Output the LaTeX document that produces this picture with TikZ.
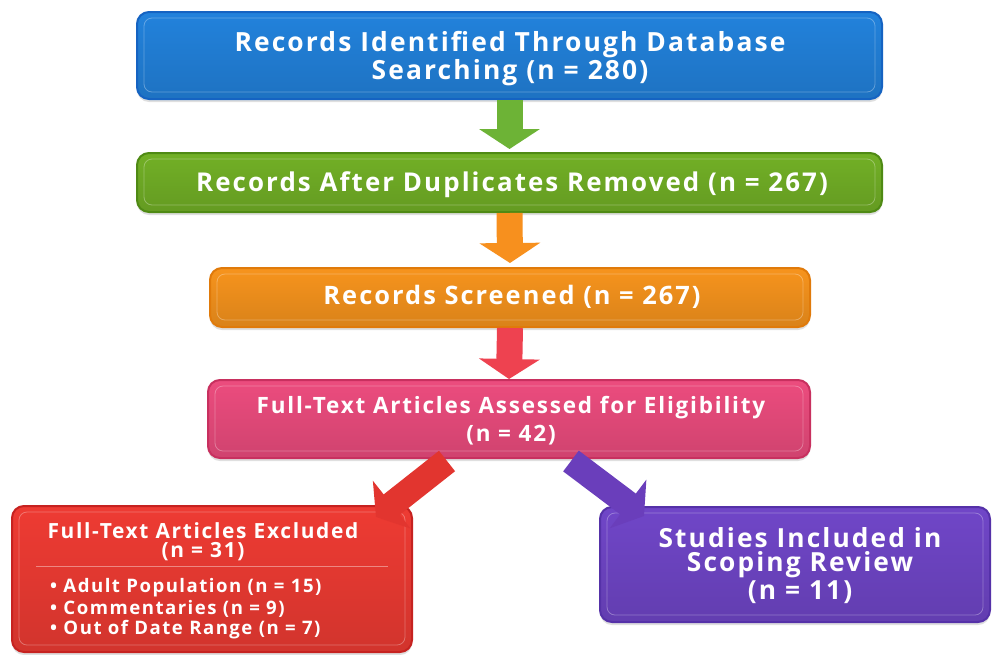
\documentclass[tikz,border=0pt]{standalone}
\usepackage{fontspec}
\setmainfont{Open Sans}
\newfontfamily\lsfont[LetterSpace=8]{Open Sans}
\usetikzlibrary{arrows.meta,shadows}
\definecolor{blueM}{HTML}{2282DC}\definecolor{blueD}{HTML}{1563C2}
\definecolor{greenM}{HTML}{72B026}\definecolor{greenD}{HTML}{4F8A14}
\definecolor{orangeM}{HTML}{F7941D}\definecolor{orangeD}{HTML}{E07A0A}
\definecolor{pinkM}{HTML}{EC4C7E}\definecolor{pinkD}{HTML}{C8305F}
\definecolor{redM}{HTML}{EE3B33}\definecolor{redD}{HTML}{C62220}
\definecolor{purpM}{HTML}{7046C8}\definecolor{purpD}{HTML}{5531A8}
\definecolor{arGreen}{HTML}{6DB336}\definecolor{arOrange}{HTML}{F7901E}
\definecolor{arRed}{HTML}{EE4250}\definecolor{arRedD}{HTML}{E2352F}
\definecolor{arPurp}{HTML}{6A3EBB}
\tikzset{
  boxbase/.style 2 args={rounded corners=12pt, draw=#2, line width=2pt,
    top color=#1, bottom color=#1!88!black, text=white,
    align=center, inner sep=0pt,
    drop shadow={shadow xshift=0pt, shadow yshift=-3pt, opacity=0.25}},
  hilite/.style={rounded corners=8pt, draw=white, draw opacity=0.3, line width=0.8pt},
  blockarrow/.style={line width=26pt, -{Triangle[width=60pt,length=20pt]}, draw=#1},
  txt/.style={text=white, inner sep=0pt, align=center}
}
\newcommand{\fs}[1]{\lsfont\bfseries\fontsize{#1}{#1}\selectfont}
\begin{document}
\begin{tikzpicture}[x=1pt,y=-1pt]
\useasboundingbox[fill=white] (0,0) rectangle (1000,654);
% boxes
\node[boxbase={blueM}{blueD}, minimum width=745pt, minimum height=87pt] (b1) at (509.5,55.5) {};
\node[boxbase={greenM}{greenD}, minimum width=745pt, minimum height=59pt] (b2) at (509.5,182.5) {};
\node[boxbase={orangeM}{orangeD}, minimum width=600pt, minimum height=59pt] (b3) at (510,297.5) {};
\node[boxbase={pinkM}{pinkD}, minimum width=602pt, minimum height=78pt] (b4) at (509,419) {};
\node[boxbase={redM}{redD}, minimum width=400pt, minimum height=146pt] (b5) at (212,579) {};
\node[boxbase={purpM}{purpD}, minimum width=390pt, minimum height=115pt] (b6) at (795,564.5) {};
% highlights
\foreach \b in {b1,b2,b3,b4,b5,b6}{
  \draw[hilite] ([shift={(8,7)}]\b.north west) rectangle ([shift={(-8,-8)}]\b.south east);
}
% texts
\node[txt, font=\fs{26.4}] (t1a) at (510,45) {Records Identified Through Database};
\node[txt, font=\fs{26.4}] (t1b) at (510,73) {Searching (n = 280)};
\node[txt, font=\fs{25.9}] (t2) at (512,185) {Records After Duplicates Removed (n = 267)};
\node[txt, font=\fs{25.4}] (t3) at (512,297) {Records Screened (n = 267)};
\node[txt, font=\fs{22.5}] (t4a) at (511,408) {Full-Text Articles Assessed for Eligibility};
\node[txt, font=\fs{22.5}] (t4b) at (511,435) {(n = 42)};
\node[txt, font=\fs{20.9}] (t5a) at (203,531) {Full-Text Articles Excluded};
\node[txt, font=\fs{20.9}] (t5b) at (203,552) {(n = 31)};
\draw[white, opacity=0.4, line width=0.8pt] ([shift={(25,61)}]b5.north west) coordinate (d1) -- ([shift={(-25,61)}]b5.north east) coordinate (d2);
\node[txt, font=\fs{18.6}, anchor=west] (t5c) at (50,588) {• Adult Population (n = 15)};
\node[txt, font=\fs{18.6}, anchor=west] (t5d) at (50,609) {• Commentaries (n = 9)};
\node[txt, font=\fs{18.6}, anchor=west] (t5e) at (50,630) {• Out of Date Range (n = 7)};
\node[txt, font=\fs{26.3}] (t6a) at (800,538) {Studies Included in};
\node[txt, font=\fs{26.3}] (t6b) at (800,565) {Scoping Review};
\node[txt, font=\fs{26.3}] (t6c) at (800,592) {(n = 11)};
% arrows
\draw[blockarrow=arGreen] (b1.south) -- ([yshift=3pt]b2.north);
\draw[blockarrow=arOrange] (b2.south) -- ([yshift=4pt]b3.north);
\draw[blockarrow=arRed] (b3.south) -- ([yshift=0pt]b4.north);
\draw[blockarrow=arRedD] ([shift={(-62,2)}]b4.south) -- ([shift={(-37,12)}]b5.north east);
\draw[blockarrow=arPurp] ([shift={(62,2)}]b4.south) -- ([shift={(45,10)}]b6.north west);
\end{tikzpicture}
\end{document}
